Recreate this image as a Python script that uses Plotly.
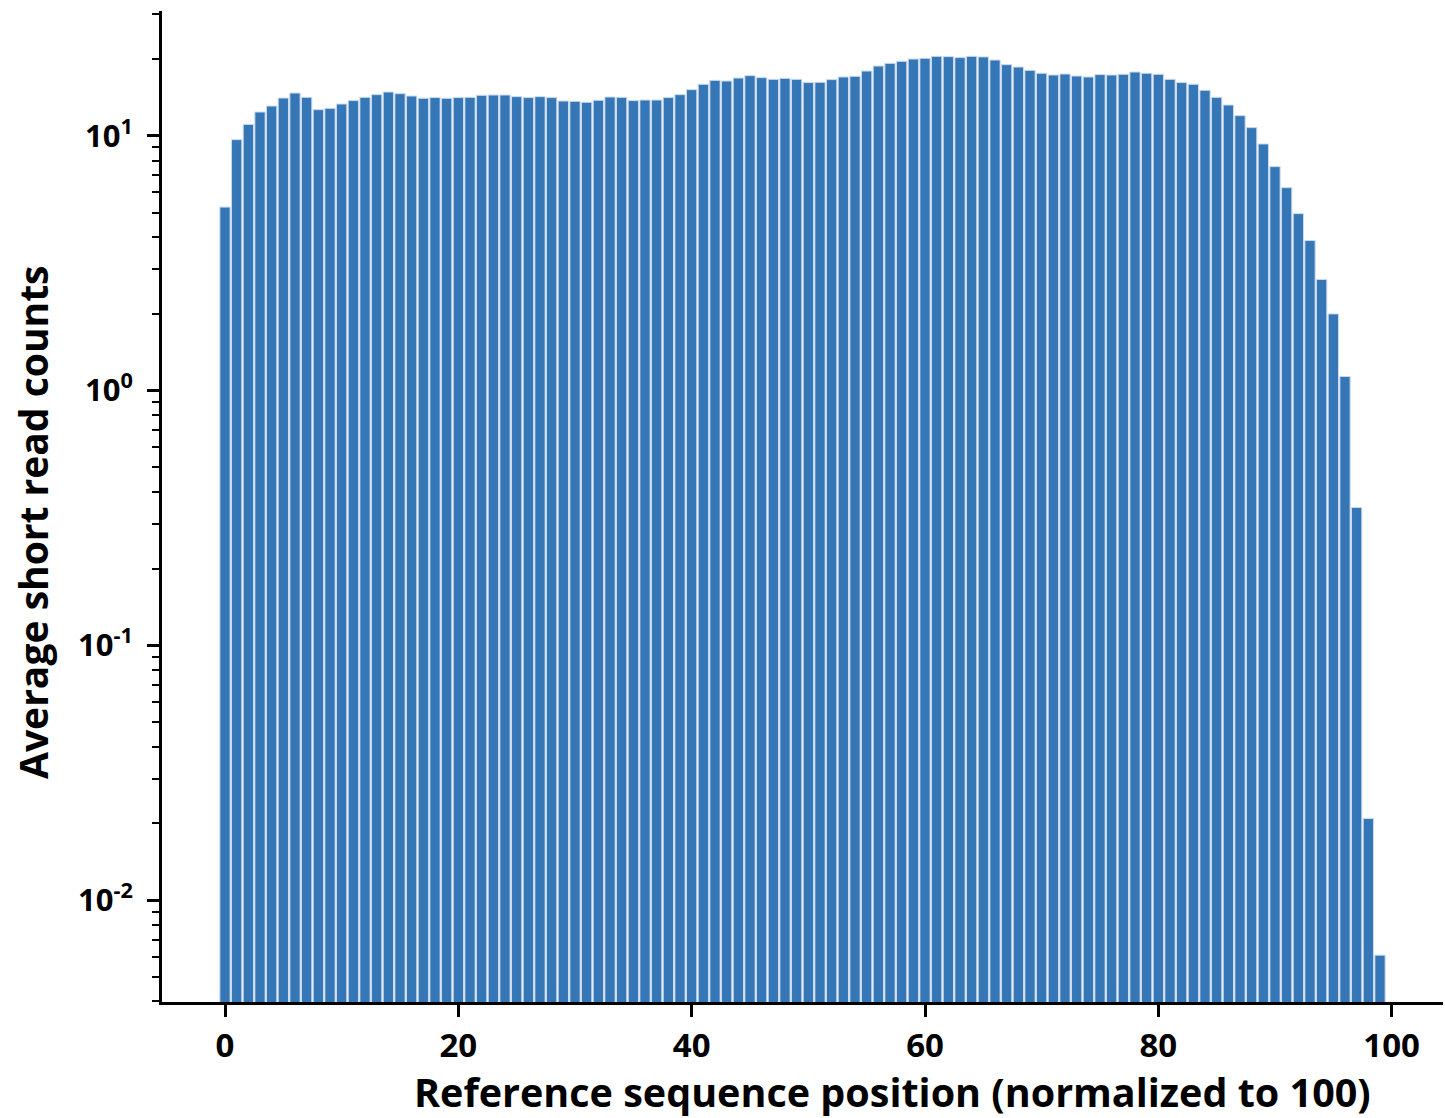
import plotly.graph_objects as go

positions = list(range(100))
avg_counts = [
    5.25, 9.66, 11.09, 12.4, 13.09, 14.07, 14.72, 14.16, 12.67, 12.82,
    13.33, 13.75, 14.16, 14.51, 14.86, 14.64, 14.33, 14.04, 14.13, 14.04,
    14.13, 14.16, 14.42, 14.46, 14.46, 14.25, 14.13, 14.25, 14.13, 13.70,
    13.66, 13.54, 13.79, 14.20, 14.16, 13.75, 13.82, 13.82, 14.13, 14.51,
    15.18, 15.93, 16.51, 16.41, 16.86, 17.23, 16.92, 16.66, 16.81, 16.66,
    16.18, 16.22, 16.62, 17.02, 17.12, 17.96, 18.79, 19.25, 19.61, 20.02,
    20.15, 20.51, 20.46, 20.28, 20.51, 20.41, 19.84, 19.03, 18.62, 18.07,
    17.60, 17.33, 17.48, 17.17, 17.02, 17.39, 17.33, 17.44, 17.80, 17.60,
    17.44, 16.66, 16.18, 15.93, 15.09, 14.16, 13.21, 12.0, 10.77, 9.29,
    7.57, 6.26, 4.95, 3.88, 2.73, 2.00, 1.136, 0.3475, 0.0209, 0.00608,
]

x_tickvals = [0, 20, 40, 60, 80, 100]
y_tickvals = [0.01, 0.1, 1, 10]
y_ticktext = ["10<sup>-2</sup>", "10<sup>-1</sup>", "10<sup>0</sup>", "10<sup>1</sup>"]
y_minor_vals = [m * d for d in (0.001, 0.01, 0.1, 1, 10) for m in range(2, 10)]

x_title = "Reference sequence position (normalized to 100)"
y_title = "Average short read counts"

FONT = "'Open Sans', Lato, sans-serif"

fig = go.Figure(
    go.Bar(
        x=positions,
        y=avg_counts,
        width=0.88,
        marker=dict(color="#3577B6", line=dict(color="#C9D9EE", width=1)),
    )
)

fig.update_layout(
    width=1445,
    height=1118,
    margin=dict(l=162, r=2, t=11, b=116),
    plot_bgcolor="white",
    paper_bgcolor="white",
    showlegend=False,
    font=dict(family=FONT, color="black", weight=700),
)

fig.update_xaxes(
    range=[-5.4, 104.4],
    tickvals=x_tickvals,
    ticks="outside",
    ticklen=12,
    tickwidth=3,
    tickcolor="black",
    showline=True,
    linewidth=3,
    linecolor="black",
    showgrid=False,
    zeroline=False,
    tickfont=dict(size=33, family=FONT, weight=700),
    ticklabelstandoff=0,
)

fig.update_yaxes(
    type="log",
    range=[-2.40, 1.49],
    tickvals=y_tickvals,
    ticktext=y_ticktext,
    ticks="outside",
    ticklen=12,
    tickwidth=3,
    tickcolor="black",
    minor=dict(tickvals=y_minor_vals, ticks="outside", ticklen=7, tickwidth=2, tickcolor="black"),
    showline=True,
    linewidth=3,
    linecolor="black",
    showgrid=False,
    zeroline=False,
    tickfont=dict(size=31, family=FONT, weight=700),
    ticklabelstandoff=8,
)

fig.add_annotation(
    text=x_title, xref="paper", yref="paper", x=0.57, y=-0.0905,
    xanchor="center", yanchor="middle", showarrow=False,
    font=dict(size=39.5, family=FONT, weight=700, color="black"),
)
fig.add_annotation(
    text=y_title, xref="paper", yref="paper", x=-0.101, y=0.484,
    xanchor="center", yanchor="middle", showarrow=False, textangle=-90,
    font=dict(size=39, family=FONT, weight=700, color="black"),
)

fig.write_html(
    "out.html",
    config={"displayModeBar": False},
    post_script="document.body.style.margin='0';document.body.style.overflow='hidden';",
)
